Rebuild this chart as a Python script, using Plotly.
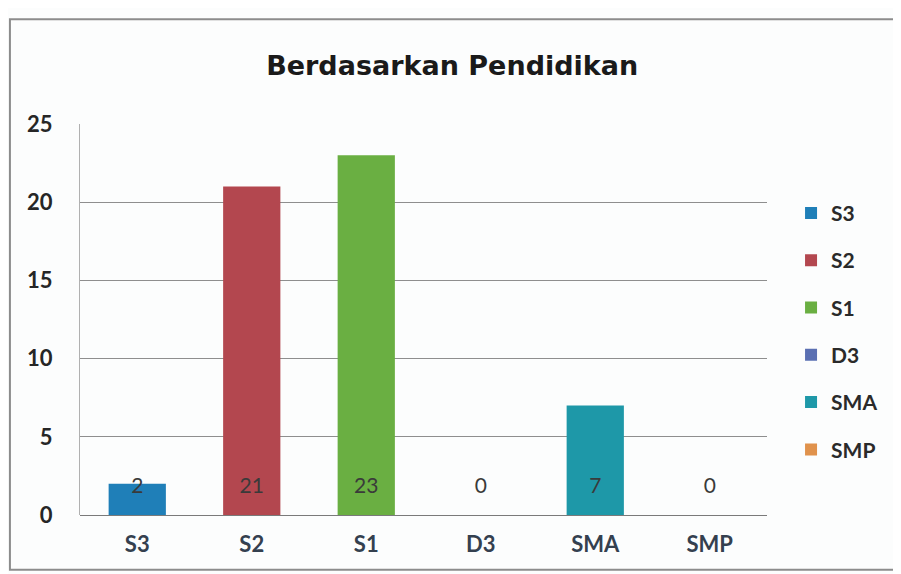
import plotly.graph_objects as go

categories = ["S3", "S2", "S1", "D3", "SMA", "SMP"]
values = [2, 21, 23, 0, 7, 0]
colors = ["#1f7fb8", "#b3474f", "#6aaf42", "#5a6fb2", "#1e98a8", "#e0924c"]
y_ticks = [0, 5, 10, 15, 20, 25]

FONT = "Lato, Open Sans, sans-serif"

fig = go.Figure()
for cat, val, col in zip(categories, values, colors):
    fig.add_trace(go.Bar(
        x=[cat], y=[val], name=cat, marker=dict(color=col, line=dict(width=0)),
        width=0.5, legendgroup=cat, showlegend=True,
    ))

label_y = 1.75
fig.add_trace(go.Scatter(
    x=categories, y=[label_y] * len(categories), mode="text",
    text=[str(v) for v in values], textfont=dict(size=21, color="#3a3a3a", family=FONT),
    showlegend=False, hoverinfo="skip",
))

fig.update_layout(
    width=901, height=574,
    margin=dict(l=72, r=142, t=116, b=67, autoexpand=False),
    paper_bgcolor="#fcfdfd", plot_bgcolor="#fcfdfd",
    barmode="overlay",
    title=dict(text="<b>Berdasarkan Pendidikan</b>", x=0.493, xanchor="center",
               y=0.899, yanchor="middle",
               font=dict(family="DejaVu Sans, sans-serif", size=27, color="#1a1a1a")),
    font=dict(family=FONT, size=20, color="#333333"),
    legend=dict(x=1.035, xanchor="left", y=0.47, yanchor="middle",
                font=dict(size=21, color="#2a2a2a", family=FONT, weight="bold"),
                tracegroupgap=17, bgcolor="rgba(0,0,0,0)", itemwidth=30),
    xaxis=dict(categoryorder="array", categoryarray=categories,
               showgrid=False, showline=False, ticks="", automargin=False,
               tickfont=dict(size=22, color="#34404f", family=FONT, weight="bold"),
               ticklabelstandoff=14),
    yaxis=dict(range=[0, 25], tickvals=y_ticks, showgrid=True,
               gridcolor="#8e8e8e", gridwidth=1, zeroline=True,
               zerolinecolor="#7a7a7a", zerolinewidth=1, automargin=False,
               showline=True, linecolor="#b0b0b0", linewidth=1,
               ticks="", tickfont=dict(size=22, color="#262626", family=FONT, weight="bold"),
               ticklabelstandoff=22),
    shapes=[dict(type="rect", xref="paper", yref="paper",
                 x0=-0.102, x1=1.192, y0=-0.14, y1=1.268,
                 line=dict(color="#8c8c8c", width=2), fillcolor="rgba(0,0,0,0)",
                 layer="below")],
)

fig.write_html("out.html")
